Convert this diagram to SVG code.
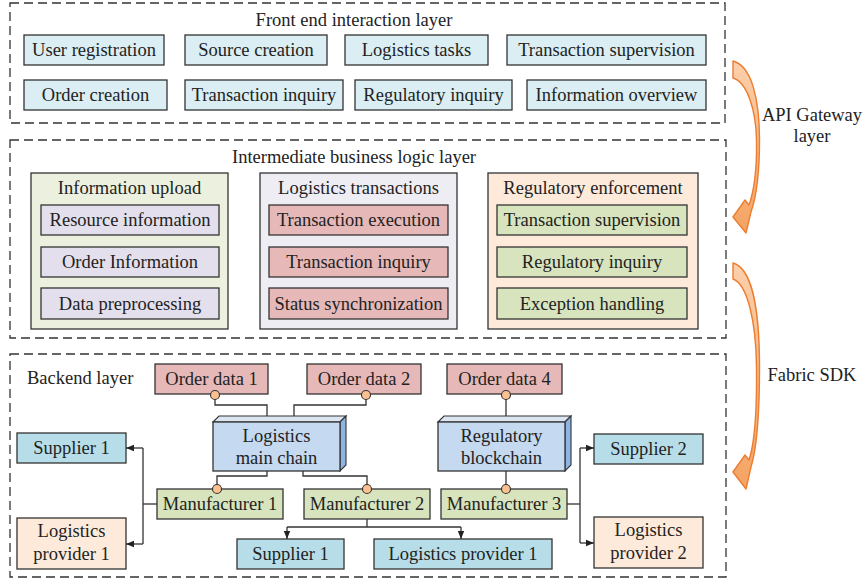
<svg xmlns="http://www.w3.org/2000/svg" width="865" height="581" viewBox="0 0 865 581">
  <defs>
    <style>
      text { font-family: "Liberation Serif", "Times New Roman", serif; font-size: 18.5px; fill: #222; }
      .c { text-anchor: middle; }
      .layer { fill: none; stroke: #333; stroke-width: 1.3; stroke-dasharray: 9 5; }
      .box { stroke: #333; stroke-width: 1.3; }
      .fe { fill: #DAEEF3; }
      .grpA { fill: #EBF1DE; }
      .grpB { fill: #EFEDF4; }
      .grpC { fill: #FDEADA; }
      .lav { fill: #E4DFEC; }
      .sal { fill: #E6B9B8; }
      .grn { fill: #D7E4BD; }
      .cyan { fill: #B7DEE8; }
      .peach { fill: #FDEADA; }
      .front3d { fill: #C5D9F1; stroke: #333; stroke-width: 1.3; }
      .top3d { fill: #DCE6F2; stroke: #333; stroke-width: 1.1; }
      .side3d { fill: #8EB4E3; stroke: #333; stroke-width: 1.1; }
      .wire { fill: none; stroke: #333; stroke-width: 1.3; }
      .port { fill: #FAC090; stroke: #333; stroke-width: 1.1; }
      .flow { stroke: #ED7D31; stroke-width: 1.4; stroke-linejoin: round; }
    </style>
    <marker id="arr" viewBox="0 0 10 10" refX="10" refY="5" markerWidth="8" markerHeight="8" markerUnits="userSpaceOnUse" orient="auto">
      <path d="M0,1 L10,5 L0,9 Z" fill="#222"/>
    </marker>
    <linearGradient id="orangeGrad" x1="0" y1="0" x2="0" y2="1">
      <stop offset="0" stop-color="#FBD0AC"/>
      <stop offset="1" stop-color="#F4A361"/>
    </linearGradient>
  </defs>

  <!-- Layer frames -->
  <g id="front-layer">
    <rect class="layer" x="10" y="3" width="715" height="120"/>
    <text class="c" x="354" y="26">Front end interaction layer</text>
  </g>
  <g id="logic-layer">
    <rect class="layer" x="10" y="140" width="716" height="198"/>
    <text class="c" x="354" y="163">Intermediate business logic layer</text>
  </g>
  <g id="backend-layer">
    <rect class="layer" x="10" y="354" width="716" height="223"/>
    <text x="27" y="384">Backend layer</text>
  </g>

  <!-- Front end nodes -->
  <g id="user-registration"><rect class="box fe" x="24" y="35" width="140" height="30"/><text class="c" x="94" y="56">User registration</text></g>
  <g id="source-creation"><rect class="box fe" x="185" y="35" width="142" height="30"/><text class="c" x="256" y="56">Source creation</text></g>
  <g id="logistics-tasks"><rect class="box fe" x="345" y="35" width="143" height="30"/><text class="c" x="416.5" y="56">Logistics tasks</text></g>
  <g id="transaction-supervision-fe"><rect class="box fe" x="507" y="35" width="199" height="30"/><text class="c" x="606.5" y="56">Transaction supervision</text></g>
  <g id="order-creation"><rect class="box fe" x="24" y="80" width="143" height="30"/><text class="c" x="95.5" y="101">Order creation</text></g>
  <g id="transaction-inquiry-fe"><rect class="box fe" x="185" y="80" width="158" height="30"/><text class="c" x="264" y="101">Transaction inquiry</text></g>
  <g id="regulatory-inquiry-fe"><rect class="box fe" x="355" y="80" width="157" height="30"/><text class="c" x="433.5" y="101">Regulatory inquiry</text></g>
  <g id="information-overview"><rect class="box fe" x="527" y="80" width="179" height="30"/><text class="c" x="616.5" y="101">Information overview</text></g>

  <!-- Business logic groups -->
  <g id="information-upload">
    <rect class="box grpA" x="31" y="173" width="197" height="156"/>
    <text class="c" x="129.5" y="194">Information upload</text>
    <rect class="box lav" x="41" y="205" width="178" height="30"/><text class="c" x="130" y="226">Resource information</text>
    <rect class="box lav" x="41" y="247" width="178" height="30"/><text class="c" x="130" y="268">Order Information</text>
    <rect class="box lav" x="41" y="288" width="178" height="31"/><text class="c" x="130" y="309.5">Data preprocessing</text>
  </g>
  <g id="logistics-transactions">
    <rect class="box grpB" x="260" y="173" width="197" height="156"/>
    <text class="c" x="358.5" y="194">Logistics transactions</text>
    <rect class="box sal" x="269" y="205" width="179" height="30"/><text class="c" x="358.5" y="226">Transaction execution</text>
    <rect class="box sal" x="269" y="247" width="179" height="30"/><text class="c" x="358.5" y="268">Transaction inquiry</text>
    <rect class="box sal" x="269" y="288" width="179" height="31"/><text class="c" x="358.5" y="309.5">Status synchronization</text>
  </g>
  <g id="regulatory-enforcement">
    <rect class="box grpC" x="488" y="173" width="210" height="156"/>
    <text class="c" x="593" y="194">Regulatory enforcement</text>
    <rect class="box grn" x="497" y="205" width="190" height="30"/><text class="c" x="592" y="226">Transaction supervision</text>
    <rect class="box grn" x="497" y="247" width="190" height="30"/><text class="c" x="592" y="268">Regulatory inquiry</text>
    <rect class="box grn" x="497" y="288" width="190" height="31"/><text class="c" x="592" y="309.5">Exception handling</text>
  </g>

  <!-- Backend connectors -->
  <g id="connectors">
    <path class="wire" d="M215,395 V405 H267 V417"/>
    <path class="wire" d="M366,395 V405 H294 V417"/>
    <path class="wire" d="M506,395 V417"/>
    <path class="wire" d="M267,471 V476 H217 V489"/>
    <path class="wire" d="M303,471 V476 H367 V489"/>
    <path class="wire" d="M506,471 V489"/>
    <!-- Manufacturer 1 fan-out -->
    <path class="wire" d="M157,504 H143"/>
    <path class="wire" d="M143,448 V544"/>
    <path class="wire" d="M143,448 H126" marker-end="url(#arr)"/>
    <path class="wire" d="M143,544 H126" marker-end="url(#arr)"/>
    <!-- Manufacturer 2 fan-out -->
    <path class="wire" d="M367,519 V527"/>
    <path class="wire" d="M287,527 H461"/>
    <path class="wire" d="M287,527 V539" marker-end="url(#arr)"/>
    <path class="wire" d="M461,527 V539" marker-end="url(#arr)"/>
    <!-- Manufacturer 3 fan-out -->
    <path class="wire" d="M567,504 H580"/>
    <path class="wire" d="M580,448 V543"/>
    <path class="wire" d="M580,448 H594" marker-end="url(#arr)"/>
    <path class="wire" d="M580,543 H594" marker-end="url(#arr)"/>
  </g>

  <!-- Backend nodes -->
  <g id="order-data-1"><rect class="box sal" x="155" y="364" width="113" height="30"/><text class="c" x="211.5" y="385">Order data 1</text><circle class="port" cx="215" cy="395" r="4.5"/></g>
  <g id="order-data-2"><rect class="box sal" x="307" y="364" width="114" height="30"/><text class="c" x="364" y="385">Order data 2</text><circle class="port" cx="366" cy="395" r="4.5"/></g>
  <g id="order-data-4"><rect class="box sal" x="447" y="364" width="115" height="30"/><text class="c" x="504.5" y="385">Order data 4</text><circle class="port" cx="506" cy="395" r="4.5"/></g>

  <g id="logistics-main-chain">
    <polygon class="top3d" points="213,422 219,416 346,416 340,422"/>
    <polygon class="side3d" points="340,422 346,416 346,465 340,471"/>
    <rect class="front3d" x="213" y="422" width="127" height="49"/>
    <text class="c" x="276.5" y="442">Logistics</text>
    <text class="c" x="276.5" y="464">main chain</text>
  </g>
  <g id="regulatory-blockchain">
    <polygon class="top3d" points="438,422 444,416 571,416 565,422"/>
    <polygon class="side3d" points="565,422 571,416 571,465 565,471"/>
    <rect class="front3d" x="438" y="422" width="127" height="49"/>
    <text class="c" x="501.5" y="442">Regulatory</text>
    <text class="c" x="501.5" y="464">blockchain</text>
  </g>

  <g id="manufacturer-1"><rect class="box grn" x="157" y="489" width="126" height="30"/><text class="c" x="220" y="510">Manufacturer 1</text><circle class="port" cx="217" cy="489" r="4.5"/></g>
  <g id="manufacturer-2"><rect class="box grn" x="304" y="489" width="126" height="30"/><text class="c" x="367" y="510">Manufacturer 2</text><circle class="port" cx="367" cy="489" r="4.5"/></g>
  <g id="manufacturer-3"><rect class="box grn" x="441" y="489" width="126" height="30"/><text class="c" x="504" y="510">Manufacturer 3</text><circle class="port" cx="506" cy="489" r="4.5"/></g>

  <g id="supplier-1-left"><rect class="box cyan" x="17" y="433" width="109" height="30"/><text class="c" x="71.5" y="454">Supplier 1</text></g>
  <g id="logistics-provider-1-left"><rect class="box peach" x="17" y="518" width="109" height="51"/><text class="c" x="71.5" y="537">Logistics</text><text class="c" x="71.5" y="560">provider 1</text></g>
  <g id="supplier-1-bottom"><rect class="box cyan" x="237" y="539" width="107" height="30"/><text class="c" x="290.5" y="560">Supplier 1</text></g>
  <g id="logistics-provider-1-bottom"><rect class="box cyan" x="374" y="539" width="178" height="30"/><text class="c" x="463" y="560">Logistics provider 1</text></g>
  <g id="supplier-2"><rect class="box cyan" x="594" y="434" width="109" height="30"/><text class="c" x="648.5" y="455">Supplier 2</text></g>
  <g id="logistics-provider-2"><rect class="box peach" x="594" y="517" width="109" height="51"/><text class="c" x="648.5" y="536">Logistics</text><text class="c" x="648.5" y="559">provider 2</text></g>

  <!-- Inter-layer flow arrows -->
  <g id="api-gateway">
    <path class="flow" fill="url(#orangeGrad)" d="M733,61 L733,78 C747,82 756,110 756.5,140 C757,168 755,188 749,205 L745,200 L733,217 L746,233 L751,212 C757,195 759.5,170 759.5,140 C759.5,100 752,66 733,61 Z"/>
    <text class="c" x="812" y="121">API Gateway</text>
    <text class="c" x="812" y="142">layer</text>
  </g>
  <g id="fabric-sdk">
    <path class="flow" fill="url(#orangeGrad)" d="M733,263 L733,279 C747,284 756,320 756.5,367 C757,410 755,442 749,460 L745,455 L733,472 L746,489 L751,467 C757,448 759.5,415 759.5,367 C759.5,310 752,268 733,263 Z"/>
    <text class="c" x="812" y="381">Fabric SDK</text>
  </g>
</svg>
